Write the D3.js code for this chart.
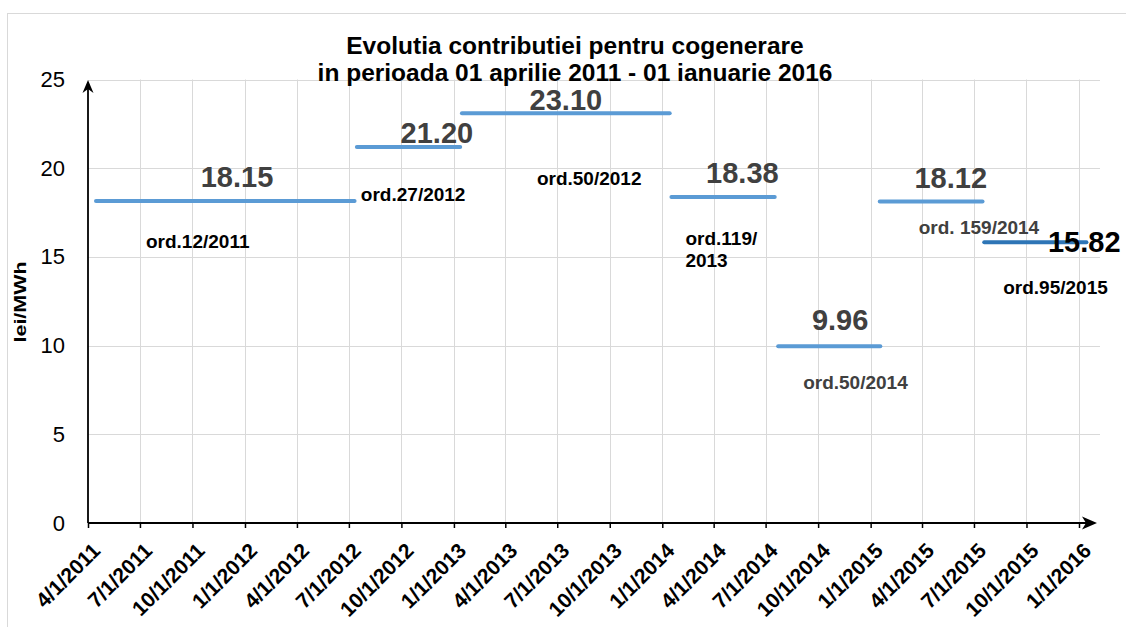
<!DOCTYPE html>
<html>
<head>
<meta charset="utf-8">
<script src="https://d3js.org/d3.v7.min.js"></script>
<style>
body { margin: 0; background: #fff; }
text { font-family: "Liberation Sans", Arial, sans-serif; }
</style>
</head>
<body>
<div id="chart"></div>
<script>
// date axis tick labels (quarterly)
const tickLabels = ["4/1/2011", "7/1/2011", "10/1/2011", "1/1/2012", "4/1/2012", "7/1/2012",
    "10/1/2012", "1/1/2013", "4/1/2013", "7/1/2013", "10/1/2013", "1/1/2014", "4/1/2014",
    "7/1/2014", "10/1/2014", "1/1/2015", "4/1/2015", "7/1/2015", "10/1/2015", "1/1/2016"];
const yTicks = [0, 5, 10, 15, 20, 25];

// one step per order: start, end, value (lei/MWh) and the order name
const stepStart = ["4/15/2011", "7/15/2012", "1/15/2013", "1/17/2014", "7/23/2014", "1/17/2015", "7/19/2015"];
const stepEnd = ["7/11/2012", "1/12/2013", "1/14/2014", "7/17/2014", "1/18/2015", "7/16/2015", "1/14/2016"];
const stepValues = [18.15, 21.20, 23.10, 18.38, 9.96, 18.12, 15.82];
const orderLabels = ["ord.12/2011", "ord.27/2012", "ord.50/2012", "ord.119/\n2013", "ord.50/2014", "ord. 159/2014", "ord.95/2015"];

// where the texts sit, in pixels from the start of their step
const valueOffset = [[141, -14], [80, -4], [104, -3], [71, -14], [62, -16], [71, -14], [100, 10]];
const orderOffset = [[50, 47], [4, 54], [75, 72], [14, 48], [25, 43], [39, 32], [19, 52]];

const width = 1126, height = 627;
const parse = d3.timeParse("%m/%d/%Y");
const tickDates = tickLabels.map(parse);

const svg = d3.select("#chart").append("svg")
    .attr("width", width)
    .attr("height", height);

// chart border
svg.append("rect")
    .attr("x", 7.5).attr("y", 13.5)
    .attr("width", 1200).attr("height", 700)
    .attr("fill", "#fff")
    .attr("stroke", "#d9d9d9");

const x = d3.scaleTime()
    .domain([tickDates[0], tickDates[tickDates.length - 1]])
    .range([88, 1079]);
const y = d3.scaleLinear()
    .domain([0, 25])
    .range([523, 79.5]);

// grid
svg.append("g").selectAll("line")
    .data(yTicks.filter(d => d > 0))
    .enter().append("line")
    .attr("x1", x.range()[0]).attr("x2", 1100)
    .attr("y1", d => Math.round(y(d)) + 0.5).attr("y2", d => Math.round(y(d)) + 0.5)
    .attr("stroke", "#d9d9d9");
svg.append("g").selectAll("line")
    .data(tickDates.slice(1))
    .enter().append("line")
    .attr("x1", d => Math.round(x(d)) + 0.5).attr("x2", d => Math.round(x(d)) + 0.5)
    .attr("y1", y(0)).attr("y2", y(25))
    .attr("stroke", "#d9d9d9");

// x axis: ticks + rotated labels
const xAxis = svg.append("g")
    .attr("transform", "translate(0," + y(0) + ")")
    .call(d3.axisBottom(x)
        .tickValues(tickDates)
        .tickFormat((d, i) => tickLabels[i])
        .tickSize(5)
        .tickSizeOuter(0));
xAxis.select(".domain").remove();
xAxis.selectAll(".tick line").attr("stroke", "#000").attr("stroke-width", 1.5);
xAxis.selectAll(".tick text")
    .attr("y", 0).attr("dy", 0)
    .attr("text-anchor", "end")
    .attr("transform", "translate(13,29) rotate(-45)")
    .attr("fill", "#000")
    .style("font-size", "21px")
    .style("font-weight", "bold")
    .style("font-family", "'Liberation Sans', Arial, sans-serif");

// y axis labels
const yAxis = svg.append("g")
    .attr("transform", "translate(" + x.range()[0] + ",0)")
    .call(d3.axisLeft(y).tickValues(yTicks).tickSize(0).tickPadding(23));
yAxis.select(".domain").remove();
yAxis.selectAll(".tick text")
    .attr("fill", "#000")
    .style("font-size", "22px")
    .style("font-family", "'Liberation Sans', Arial, sans-serif");

// axis lines with arrow heads
svg.append("line")
    .attr("x1", 88).attr("x2", 1090)
    .attr("y1", y(0)).attr("y2", y(0))
    .attr("stroke", "#000").attr("stroke-width", 1.8);
svg.append("path")
    .attr("d", "M1097," + y(0) + " L1082," + (y(0) - 6.5) + " L1086," + y(0) + " L1082," + (y(0) + 6.5) + " Z")
    .attr("fill", "#000");
svg.append("line")
    .attr("x1", 88).attr("x2", 88)
    .attr("y1", y(0)).attr("y2", 86)
    .attr("stroke", "#000").attr("stroke-width", 1.8);
svg.append("path")
    .attr("d", "M88,80 L82.5,93 L88,89 L93.5,93 Z")
    .attr("fill", "#000");

// y axis title
svg.append("text")
    .attr("transform", "translate(26,302) rotate(-90)")
    .attr("text-anchor", "middle")
    .attr("textLength", 81)
    .attr("lengthAdjust", "spacingAndGlyphs")
    .style("font-size", "16px")
    .style("font-weight", "bold")
    .text("lei/MWh");

// title
svg.append("text")
    .attr("x", 575).attr("y", 54)
    .attr("text-anchor", "middle")
    .style("font-size", "24.5px")
    .style("font-weight", "bold")
    .text("Evolutia contributiei pentru cogenerare");
svg.append("text")
    .attr("x", 575).attr("y", 81)
    .attr("text-anchor", "middle")
    .style("font-size", "24.5px")
    .style("font-weight", "bold")
    .text("in perioada 01 aprilie 2011 - 01 ianuarie 2016");

// the steps
const steps = stepValues.map((v, i) => ({
    start: parse(stepStart[i]),
    end: parse(stepEnd[i]),
    value: v,
    order: orderLabels[i],
    last: i === stepValues.length - 1
}));

svg.append("g").selectAll("line")
    .data(steps)
    .enter().append("line")
    .attr("x1", d => x(d.start))
    .attr("x2", d => x(d.end))
    .attr("y1", d => y(d.value))
    .attr("y2", d => y(d.value))
    .attr("stroke", d => d.last ? "#2e75b6" : "#5b9bd5")
    .attr("stroke-width", 4)
    .attr("stroke-linecap", "round");

// value labels
svg.append("g").selectAll("text")
    .data(steps)
    .enter().append("text")
    .attr("x", (d, i) => x(d.start) + valueOffset[i][0])
    .attr("y", (d, i) => y(d.value) + valueOffset[i][1])
    .attr("text-anchor", "middle")
    .attr("fill", d => d.last ? "#000" : "#404040")
    .style("font-size", "29px")
    .style("font-weight", "bold")
    .text(d => d.value.toFixed(2));

// order labels
const orderText = svg.append("g").selectAll("text")
    .data(steps)
    .enter().append("text")
    .attr("x", (d, i) => x(d.start) + orderOffset[i][0])
    .attr("y", (d, i) => y(d.value) + orderOffset[i][1])
    .attr("fill", (d, i) => (i === 4 || i === 5) ? "#404040" : "#000")
    .style("font-size", "19px")
    .style("font-weight", "bold");
orderText.selectAll("tspan")
    .data(d => d.order.split("\n"))
    .enter().append("tspan")
    .attr("x", function() { return this.parentNode.getAttribute("x"); })
    .attr("dy", (d, i) => i ? 22 : 0)
    .text(d => d);
</script>
</body>
</html>
